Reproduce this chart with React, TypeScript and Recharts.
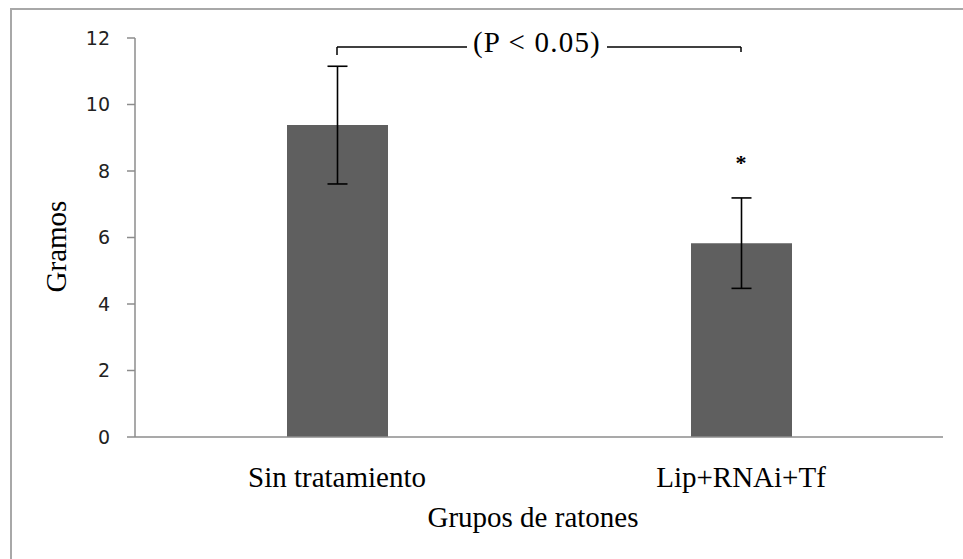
import React from 'react';
import { BarChart, Bar, XAxis, YAxis, ErrorBar, ReferenceLine, ReferenceDot, Label } from 'recharts';

const categories = ['Sin tratamiento', 'Lip+RNAi+Tf'];
const means = [9.38, 5.83];
const errors = [1.77, 1.36];
const yTicks = [0, 2, 4, 6, 8, 10, 12];
const bracketY = [11.73, 11.49, 11.58];
const pLabel = '(P < 0.05)';
const starY = [8.36];

const data = categories.map((c, i) => ({ name: c, value: means[i], err: errors[i] }));

const serif = '"Liberation Serif", "Times New Roman", serif';

const PLabel = (props: any) => {
  const vb = props.viewBox || {};
  const cx = (vb.x ?? 0) + (vb.width ?? 0) / 2;
  const cy = vb.y ?? 0;
  return (
    <g>
      <rect x={cx - 72} y={cy - 16} width={140} height={30} fill="#ffffff" />
      <text x={cx - 2} y={cy + 5} textAnchor="middle" fontFamily={serif} fontSize={29} letterSpacing={1.2} fill="#000">
        {pLabel}
      </text>
    </g>
  );
};

const StarLabel = (props: any) => {
  const vb = props.viewBox || {};
  const cx = (vb.x ?? 0) + (vb.width ?? 0) / 2;
  const cy = (vb.y ?? 0) + (vb.height ?? 0) / 2;
  return (
    <text x={cx} y={cy + 11} textAnchor="middle" fontFamily={serif} fontSize={22} fontWeight="bold" fill="#000">
      *
    </text>
  );
};

const YLabel = (props: any) => {
  const vb = props.viewBox || {};
  const x = 66;
  const y = (vb.y ?? 0) + (vb.height ?? 0) / 2 + 9;
  return (
    <text x={x} y={y} transform={`rotate(-90, ${x}, ${y})`} textAnchor="middle" fontFamily={serif} fontSize={29} fill="#000">
      Gramos
    </text>
  );
};

const XLabel = (props: any) => {
  const vb = props.viewBox || {};
  const x = (vb.x ?? 0) + (vb.width ?? 0) / 2 - 6;
  return (
    <text x={x} y={527} textAnchor="middle" fontFamily={serif} fontSize={29} fill="#000">
      Grupos de ratones
    </text>
  );
};

export default function App() {
  return (
    <div style={{ position: 'absolute', left: 0, top: 0, width: 963, height: 559, overflow: 'hidden', background: '#fff' }}>
      <div style={{ position: 'absolute', left: 10, top: 8, width: 1000, height: 600, border: '2px solid #a8a8a8', boxSizing: 'border-box' }} />
      <div style={{ position: 'absolute', left: 0, top: 0 }}>
        <BarChart width={963} height={559} data={data} margin={{ top: 38, right: 20, left: 0, bottom: 0 }} barCategoryGap={0}>
          <XAxis
            dataKey="name"
            height={122}
            axisLine={{ stroke: '#8c8c8c', strokeWidth: 1.5 }}
            tickLine={false}
            tickSize={0}
            tickMargin={29}
            tick={{ fontFamily: serif, fontSize: 29, fill: '#000' }}
          >
            <Label content={XLabel} />
          </XAxis>
          <YAxis
            width={135}
            domain={[0, 12]}
            ticks={yTicks}
            interval={0}
            axisLine={{ stroke: '#8c8c8c', strokeWidth: 1.5 }}
            tickLine={{ stroke: '#8c8c8c', strokeWidth: 1.5 }}
            tickSize={8}
            tickMargin={17}
            tick={{ fontFamily: '"DejaVu Sans", sans-serif', fontSize: 19, fill: '#222' }}
          >
            <Label content={YLabel} />
          </YAxis>
          <Bar dataKey="value" fill="#5f5f5f" barSize={101} isAnimationActive={false}>
            <ErrorBar dataKey="err" width={10} stroke="#000" strokeWidth={1.6} isAnimationActive={false} />
          </Bar>
          <ReferenceLine
            segment={[{ x: categories[0], y: bracketY[0] }, { x: categories[1], y: bracketY[0] }]}
            stroke="#000"
            strokeWidth={1.5}
            ifOverflow="visible"
            label={<PLabel />}
          />
          <ReferenceLine
            segment={[{ x: categories[0], y: bracketY[0] }, { x: categories[0], y: bracketY[1] }]}
            stroke="#000"
            strokeWidth={1.5}
            ifOverflow="visible"
          />
          <ReferenceLine
            segment={[{ x: categories[1], y: bracketY[0] }, { x: categories[1], y: bracketY[2] }]}
            stroke="#000"
            strokeWidth={1.5}
            ifOverflow="visible"
          />
          <ReferenceDot x={categories[1]} y={starY[0]} r={0} fill="none" stroke="none" ifOverflow="visible" label={<StarLabel />} />
        </BarChart>
      </div>
    </div>
  );
}
